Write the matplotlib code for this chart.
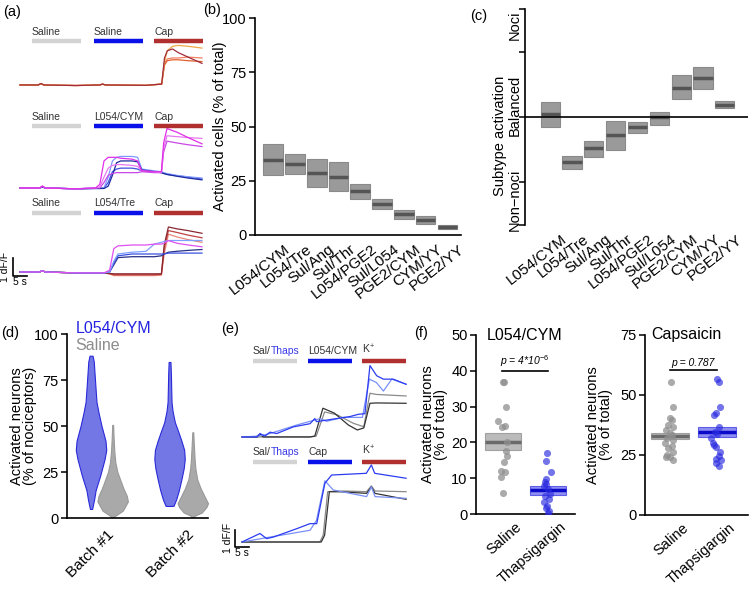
import numpy as np
import matplotlib.pyplot as plt
import matplotlib.transforms as mtransforms

plt.rcParams['font.family'] = ['Liberation Sans', 'DejaVu Sans']
plt.rcParams['mathtext.fontset'] = 'custom'
plt.rcParams['mathtext.rm'] = 'Liberation Sans'
plt.rcParams['mathtext.it'] = 'Liberation Sans:italic'

# ---------------- data ----------------
pairs = ['L054/CYM', 'L054/Tre', 'Sul/Ang', 'Sul/Thr', 'L054/PGE2',
         'Sul/L054', 'PGE2/CYM', 'CYM/YY', 'PGE2/YY']
b_med = [34.6, 32.7, 28.7, 26.9, 20.1, 14.3, 9.5, 6.9, 3.7]
b_lo = [27.6, 28.0, 22.3, 20.3, 16.6, 12.0, 7.4, 5.1, 2.8]
b_hi = [41.9, 37.2, 34.9, 33.5, 23.6, 16.4, 11.5, 8.8, 4.6]

c_med = [0.025, -0.42, -0.29, -0.17, -0.093, -0.003, 0.27, 0.361, 0.114]
c_lo = [-0.09, -0.48, -0.37, -0.31, -0.145, -0.071, 0.164, 0.262, 0.08]
c_hi = [0.142, -0.36, -0.22, -0.034, -0.043, 0.043, 0.386, 0.463, 0.148]

# panel a traces (time in s, dF/F)
a_labels = [['Saline', 'Saline', 'Cap'],
            ['Saline', 'L054/CYM', 'Cap'],
            ['Saline', 'L054/Tre', 'Cap']]
a_bar_start = [4.3, 26.4, 47.9]
a_bar_len = 17.5

a1_t = [0, 6.5, 7.5, 8.5, 20, 28.5, 29.5, 30.5, 45, 50.6, 51.6, 52.6, 54.5, 56.5, 60, 65]
a1_orange = [0, 0, .08, 0, -.03, 0, .05, 0, -.02, .05, 1.3, 1.9, 2.15, 2.2, 2.15, 2.05]
a1_darkred = [0, 0, .08, 0, -.03, 0, .05, 0, -.02, .05, 1.5, 1.9, 2.0, 1.8, 1.55, 1.2]
a1_salmon = [0, 0, .08, 0, -.03, 0, .05, 0, -.02, .05, 1.2, 1.45, 1.5, 1.5, 1.55, 1.5]
a1_red = [0, 0, .08, 0, -.03, 0, .05, 0, -.02, .05, 1.1, 1.35, 1.4, 1.4, 1.35, 1.3]

a2_t = [0, 7, 8, 9, 20, 27, 28.5, 30, 31.5, 33, 34.5, 36, 40, 42, 43.5, 48, 50.5, 51.3, 52.5, 56, 60, 65]
a2_mag1 = [0, 0, .1, 0, -.05, 0, .2, 1.5, 1.7, 1.7, 1.7, 1.65, 1.6, 1.5, .95, .9, .9, 2.5, 3.3, 3.1, 2.8, 2.45]
a2_mag2 = [0, 0, .1, 0, -.05, 0, .05, .6, 1.1, 1.25, 1.3, 1.3, 1.25, 1.2, .95, .9, .85, 2.2, 2.9, 2.85, 2.8, 2.75]
a2_mag3 = [0, 0, .1, 0, -.05, 0, 0, .3, .7, .8, .85, .85, .85, .85, .9, .85, .85, 2.0, 2.6, 2.5, 2.4, 2.3]
a2_blue1 = [0, 0, .05, 0, -.05, 0, 0, 0, .6, 1.5, 1.7, 1.75, 1.75, 1.7, 1.05, .95, .9, .85, .8, .7, .62, .55]
a2_blue2 = [0, 0, .05, 0, -.05, -.03, -.03, -.03, .1, .7, 1.4, 1.5, 1.5, 1.45, 1.0, .9, .85, .8, .75, .65, .55, .45]
a2_blue3 = [0, 0, .05, 0, -.05, -.03, -.03, 0, .3, .9, 1.05, 1.1, 1.1, 1.05, .95, .9, .85, .82, .75, .68, .6, .5]

a3_t = [0, 7, 8, 9, 20, 30, 32, 33.5, 35, 40, 45, 48, 50.5, 51.5, 53, 56, 60, 65]
a3_mag = [0, 0, .08, 0, -.05, -.05, .1, 1.3, 1.45, 1.5, 1.5, 1.55, 1.55, 1.6, 1.75, 1.6, 1.5, 1.4]
a3_lblue = [0, 0, .08, 0, -.05, -.05, 0, .6, 1.0, 1.1, 1.15, 1.55, 1.65, 1.7, 1.75, 1.75, 1.75, 1.75]
a3_blue = [0, 0, .08, 0, -.05, -.05, 0, .5, .9, 1.0, 1.0, 1.0, 1.0, 1.0, 1.05, 1.05, 1.05, 1.05]
a3_dblue = [0, 0, .08, 0, -.05, -.05, 0, .4, .8, .85, .85, .85, .9, 1.0, 1.1, 1.15, 1.2, 1.25]
a3_brown = [0, 0, .08, 0, -.05, -.05, -.08, -.1, -.1, -.1, -.1, -.1, -.1, 1.5, 2.5, 2.4, 2.3, 2.15]
a3_red = [0, 0, .08, 0, -.05, -.05, -.1, -.15, -.15, -.15, -.15, -.15, -.12, 1.3, 2.3, 2.2, 2.05, 1.9]
a3_salmon = [0, 0, .08, 0, -.05, -.05, -.1, -.2, -.2, -.2, -.2, -.2, -.18, 1.0, 2.1, 1.95, 1.8, 1.65]

# panel d violins: % levels and relative density
d_b1_y = [4.9, 10, 15, 23, 32, 37, 42, 50, 57, 63, 70, 75, 80, 85, 88.2]
d_b1_w = [0.07, 0.2, 0.3, 0.6, 0.89, 1.0, 0.95, 0.69, 0.5, 0.36, 0.3, 0.26, 0.22, 0.18, 0.1]
d_s1_y = [0.5, 1.5, 4, 9, 12, 16, 20, 25, 30, 36, 42, 50.6]
d_s1_w = [0.05, 0.22, 0.67, 1.0, 0.93, 0.71, 0.53, 0.31, 0.18, 0.11, 0.07, 0.03]
d_b2_y = [6.5, 6.6, 10, 15, 21, 27, 32, 37, 42, 47, 52, 58, 63, 70, 78, 84.8]
d_b2_w = [0.0, 0.26, 0.43, 0.61, 0.78, 0.93, 1.0, 0.96, 0.78, 0.57, 0.35, 0.2, 0.13, 0.11, 0.09, 0.06]
d_s2_y = [0.5, 1.5, 3, 6, 8, 12, 16, 21, 27, 32, 40, 46.6]
d_s2_w = [0.05, 0.19, 0.6, 0.9, 1.0, 0.76, 0.52, 0.29, 0.17, 0.12, 0.07, 0.03]

# panel e traces
e_labels = [['Sal/', 'L054/CYM', 'K$^{+}$'], ['Sal/', 'Cap', 'K$^{+}$']]
e_bar_start = [3.9, 23.6, 42.9]
e_bar_len = 15.7
e1_blue_t = [0, 5.2, 6.4, 8.2, 10, 12.4, 18.3, 24.3, 26, 26.6, 38.6, 41.5, 43.9, 45.7, 48.1, 50.5, 54, 58.6]
e1_blue_v = [0, 0, 0.2, 0.05, 0.28, 0.2, 0.59, 0.78, 1.08, 0.9, 1.2, 1.33, 1.37, 4.2, 3.6, 3.4, 3.4, 3.1]
e1_lblue_t = [0, 6, 10, 19.5, 27.9, 30.2, 36, 43, 45.5, 48, 50.5, 53.5, 58.6]
e1_lblue_v = [0, 0.05, 0.2, 0.7, 1.08, 0.92, 1.15, 1.15, 3.4, 3.2, 2.7, 3.4, 3.1]
e1_black_t = [0, 5.5, 6.5, 7.5, 24.3, 26, 28.9, 33, 38, 41.2, 43.5, 45.7, 48, 58.6]
e1_black_v = [0, 0, 0.15, 0, 0, 0.05, 1.69, 1.4, 0.7, 0.41, 0.53, 1.98, 2.0, 1.98]
e1_grey_t = [0, 24.3, 26.5, 29.5, 34, 39.8, 43.5, 45.7, 48, 58.6]
e1_grey_v = [0, 0, 0.05, 1.47, 1.3, 0.8, 0.6, 2.57, 2.5, 2.41]

e2_blue_t = [0, 6.4, 8.8, 11.2, 19.5, 24.3, 26.7, 29.6, 32, 44.4, 46.2, 47.4, 58.6]
e2_blue_v = [0, 0.5, 0.2, 0.29, 0.78, 1.08, 1.08, 3.45, 3.94, 4.04, 4.53, 4.04, 3.75]
e2_lblue_t = [0, 10, 24.3, 26.6, 29.6, 32.6, 44.5, 46.2, 47.5, 58.6]
e2_lblue_v = [0, 0.29, 0.69, 1.27, 3.6, 3.06, 2.67, 3.25, 2.67, 2.57]
e2_black_t = [0, 28.3, 29.5, 31.2, 36, 44.5, 46.2, 47.5, 58.6]
e2_black_v = [0, 0, 0.4, 2.96, 2.95, 2.86, 3.25, 2.86, 2.51]
e2_grey_t = [0, 27.8, 29, 30.6, 36, 44.5, 46.2, 47.5, 58.6]
e2_grey_v = [0, 0, 0.4, 2.96, 3.0, 2.96, 3.3, 3.0, 2.96]

# panel f
groups = ['Saline', 'Thapsigargin']
f1_sal = [36.8, 36.8, 29.8, 25.9, 24.7, 24.4, 20.2, 17.6, 16.2, 14.6, 12.0, 11.6, 10.2, 5.8]
f1_sal_jit = [0, 1, 3.3, -5, 1.7, -0.7, 4.3, 2.7, 4, 1, -1.7, 1.7, -1.7, 0]
f1_thaps = [16.9, 14.8, 11.6, 9.9, 9.0, 8.5, 7.9, 6.9, 5.6, 5.1, 4.2, 3.4, 2.3, 1.6, 0.9, 0.3]
f1_thaps_jit = [-1, -1.7, 3.3, -1.7, -3.3, -2.3, -4.3, 0, 1.7, -3.3, 1, -4.3, -1, -2.3, 1, 0]
f1_box = [(17.8, 20.2, 22.5), (5.4, 6.7, 7.9)]
f2_sal = [55.3, 44.9, 40.6, 39.6, 37.5, 36.5, 35.4, 34.3, 33.3, 31.9, 31.3, 29.9,
          28.8, 27.8, 26.4, 25.0, 24.3, 24.0, 22.9]
f2_sal_jit = [0.7, 2.7, 0, 1.7, -1.7, 3.3, -4, 0, 1.7, -2.7, 3.3, -5, 1.7, -1.7, 2.7, -3.3, -4, 0, 3.3]
f2_thaps = [56.5, 55.6, 44.9, 42.6, 41.7, 36.8, 34.7, 33.6, 31.9, 30.1, 29.2, 28.5,
            26.4, 24.6, 23.2, 22.9, 21.5, 20.6]
f2_thaps_jit = [0, 2, 2.7, -1.3, -3.3, 2, -2.3, 0, -5.7, -4, -3.3, -0.7, 2.7, 2, -1.3, 4.3, -1.3, 1.7]
f2_box = [(31.5, 32.9, 34.3), (32.6, 34.7, 36.8)]

# ---------------- figure ----------------
W, H = 749, 591
fig = plt.figure(figsize=(W / 100, H / 100), dpi=100)


def px_axes(x0, y0, x1, y1):
    return fig.add_axes([x0 / W, 1 - y1 / H, (x1 - x0) / W, (y1 - y0) / H])


def shift_xlabels(ax, dx, dy=0):
    off = mtransforms.ScaledTranslation(dx / 100, dy / 100, fig.dpi_scale_trans)
    for lab in ax.get_xticklabels():
        lab.set_transform(lab.get_transform() + off)


def style_axis(ax):
    for s in ['top', 'right']:
        ax.spines[s].set_visible(False)
    for s in ['left', 'bottom']:
        ax.spines[s].set_linewidth(1.2)
    ax.tick_params(direction='out', length=4, width=1.1, labelsize=10.5, pad=2)


TXT = 10.5
BAR_LW = 3.2

# ---- panel a ----
ax = px_axes(0, 0, 210, 290)
ax.set_xlim(-20 / 2.8, 190 / 2.8)
ax.set_ylim(-18 / 18, 272 / 18)
ax.axis('off')
a_base = [10.39, 4.67, 0.0]
a_bar_y = [12.83, 8.11, 3.28]
a_traces = [
    [(a1_t, a1_salmon, '#f08060'), (a1_t, a1_red, '#e06030'),
     (a1_t, a1_orange, '#f0a848'), (a1_t, a1_darkred, '#a02c3c')],
    [(a2_t, a2_blue3, '#4050e0'), (a2_t, a2_blue1, '#7f98ff'), (a2_t, a2_blue2, '#1c2a9c'),
     (a2_t, a2_mag3, '#c848e8'), (a2_t, a2_mag2, '#e878f0'), (a2_t, a2_mag1, '#e030e8')],
    [(a3_t, a3_salmon, '#e88878'), (a3_t, a3_red, '#c04040'), (a3_t, a3_brown, '#882830'),
     (a3_t, a3_dblue, '#283088'), (a3_t, a3_blue, '#3a50e0'), (a3_t, a3_lblue, '#80a0ff'),
     (a3_t, a3_mag, '#e050f0')],
]
bar_cols = ['#d3d3d3', '#0a10e8', '#b03030']
for g in range(3):
    for t, v, c in a_traces[g]:
        ax.plot(t, np.array(v) + a_base[g], color=c, lw=0.9)
    for k in range(3):
        x0 = a_bar_start[k]
        ax.plot([x0, x0 + a_bar_len], [a_bar_y[g]] * 2, color=bar_cols[k], lw=BAR_LW,
                solid_capstyle='butt')
        ax.text(x0, a_bar_y[g] + 0.25, a_labels[g][k], fontsize=7.5, color='#333333',
                ha='left', va='bottom')
# scale bar
ax.plot([-2.6, -2.6, 2.4], [0.78, -0.22, -0.22], color='black', lw=1.2)
ax.text(-5.3, 0.3, '1 dF/F', rotation=90, fontsize=7.5, ha='center', va='center')
ax.text(-0.2, -0.55, '5 s', fontsize=7.5, ha='center', va='center')

# ---- panel b ----
ax = px_axes(255, 18, 461, 235)
style_axis(ax)
x = np.arange(len(pairs))
ax.bar(x, np.array(b_hi) - np.array(b_lo), bottom=b_lo, width=0.9, color='#9a9a9a',
       edgecolor='#8a8a8a', lw=0.8)
ax.hlines(b_med, x - 0.45, x + 0.45, color='#555555', lw=2.5)
ax.set_xlim(-0.83, 8.62)
ax.set_ylim(0, 100)
ax.set_yticks([0, 25, 50, 75, 100])
ax.set_xticks(x)
ax.set_xticklabels(pairs, rotation=38, ha='right', va='top', rotation_mode='anchor',
                   fontsize=11)
ax.tick_params(axis='x', length=0, pad=5)
shift_xlabels(ax, 11)
ax.set_ylabel('Activated cells (% of total)', fontsize=TXT)
ax.yaxis.set_label_coords(-0.136, 0.5)

# ---- panel c ----
ax = px_axes(525, 9, 748, 225)
style_axis(ax)
ax.spines['bottom'].set_visible(False)
ax.bar(x, np.array(c_hi) - np.array(c_lo), bottom=c_lo, width=0.88, color='#9a9a9a',
       edgecolor='#8a8a8a', lw=0.8)
ax.hlines(c_med, x - 0.44, x + 0.44, color='#555555', lw=2.5)
ax.axhline(0, color='black', lw=1.2)
ax.set_xlim(-1.15, 9.06)
ax.set_ylim(-1, 1)
ax.set_yticks([-1, -0.6, 0, 0.6, 1])
ax.set_yticklabels([])
ax.set_xticks(x)
ax.set_xticklabels(pairs, rotation=38, ha='right', va='top', rotation_mode='anchor',
                   fontsize=11)
ax.tick_params(axis='x', length=0, pad=5)
shift_xlabels(ax, 11)
for lab, yy in [('Noci', 25), ('Balanced', 105), ('Non\u2212noci', 200)]:
    fig.text(515 / W, 1 - yy / H, lab, rotation=90, ha='center', va='center', fontsize=10.5)
fig.text(500 / W, 1 - 136 / H, 'Subtype activation', rotation=90, ha='center',
         va='center', fontsize=10.5)

# ---- panel d ----
ax = px_axes(67, 334, 208, 518)
style_axis(ax)
vio = [(1 - 0.11, d_b1_y, d_b1_w, '#7377e6', '#2a2ad8'),
       (1 + 0.16, d_s1_y, d_s1_w, '#a9a9a9', '#999999'),
       (2 - 0.13, d_b2_y, d_b2_w, '#7377e6', '#2a2ad8'),
       (2 + 0.16, d_s2_y, d_s2_w, '#a9a9a9', '#999999')]
for cx, yy, ww, fc, ec in vio:
    hw = np.array(ww) * 0.19
    ax.fill_betweenx(yy, cx - hw, cx + hw, facecolor=fc, edgecolor=ec, lw=0.8)
ax.set_xlim(0.59, 2.35)
ax.set_ylim(0, 100)
ax.set_yticks([0, 25, 50, 75, 100])
ax.set_xticks([1, 2])
ax.set_xticklabels(['Batch #1', 'Batch #2'], rotation=45, ha='right', va='top',
                   rotation_mode='anchor', fontsize=11)
ax.tick_params(axis='x', length=0, pad=7)
shift_xlabels(ax, 7)
ax.set_ylabel('Activated neurons\n(% of nociceptors)', fontsize=TXT, linespacing=0.95)
ax.yaxis.set_label_coords(-0.21, 0.5)
ax.text(0.06, 1.03, 'L054/CYM', transform=ax.transAxes, color='#2424e0', fontsize=11.5,
        ha='left', va='center')
ax.text(0.06, 0.94, 'Saline', transform=ax.transAxes, color='#8c8c8c', fontsize=11.5,
        ha='left', va='center')

# ---- panel e ----
ax = px_axes(215, 330, 410, 560)
ax.set_xlim(-27 / 2.8, 168 / 2.8)
ax.set_ylim(-18 / 17, 212 / 17)
ax.axis('off')
e_base = [6.18, 0.0]
e_bar_y = [10.65, 4.71]
e_traces = [
    [(e1_grey_t, e1_grey_v, '#8a8a8a'), (e1_black_t, e1_black_v, '#333333'),
     (e1_lblue_t, e1_lblue_v, '#7a90f8'), (e1_blue_t, e1_blue_v, '#2c3cf0')],
    [(e2_grey_t, e2_grey_v, '#8a8a8a'), (e2_black_t, e2_black_v, '#333333'),
     (e2_lblue_t, e2_lblue_v, '#7a90f8'), (e2_blue_t, e2_blue_v, '#2c3cf0')],
]
for g in range(2):
    for t, v, c in e_traces[g]:
        ax.plot(t, np.array(v) + e_base[g], color=c, lw=0.9)
    for k in range(3):
        x0 = e_bar_start[k]
        ax.plot([x0, x0 + e_bar_len], [e_bar_y[g]] * 2, color=bar_cols[k], lw=BAR_LW,
                solid_capstyle='butt')
        t1 = ax.text(x0, e_bar_y[g] + 0.3, e_labels[g][k], fontsize=7.5, color='#333333',
                     ha='left', va='bottom')
        if k == 0:
            ax.annotate('Thaps', xy=(1, 0), xycoords=t1, fontsize=7.5, color='#3a3ae8',
                        ha='left', va='bottom')
ax.plot([-2.5, -2.5, 2.5], [0.71, -0.29, -0.29], color='black', lw=1.2)
ax.text(-5.0, 0.25, '1 dF/F', rotation=90, fontsize=7.5, ha='center', va='center')
ax.text(0.0, -0.65, '5 s', fontsize=7.5, ha='center', va='center')

# ---- panel f ----
f_specs = [
    ((476, 335, 575, 514), (-0.6, 1.6), 50, [0, 10, 20, 30, 40, 50], f1_sal, f1_sal_jit,
     f1_thaps, f1_thaps_jit, f1_box, 45, 'L054/CYM', 0.47, 'p = 4*10$^{-6}$', 40.0,
     (-0.02, 1.0), -0.28),
    ((645, 335, 748, 515), (-0.53, 1.66), 75, [0, 25, 50, 75], f2_sal, f2_sal_jit,
     f2_thaps, f2_thaps_jit, f2_box, 47, 'Capsaicin', 0.34, 'p = 0.787', 60.4,
     (0.0, 1.0), -0.31),
]
for (rect, xl, ymax, yt, sal, sj, th, tj, box, pxu, title, tx, ptxt, py, pl, lx) in f_specs:
    ax = px_axes(*rect)
    style_axis(ax)
    cols = [('#8f8f8f', '#a5a5a5', '#6a6a6a', '#8c8c8c'),
            ('#2a2ae0', '#6a6af0', '#0a0ac8', '#3a3ae0')]
    for i, (lo, med, hi) in enumerate(box):
        pc, fc, mc, ec = cols[i]
        ax.bar(i, hi - lo, bottom=lo, width=0.82, color=fc, alpha=0.75, edgecolor=ec, lw=0.8,
               zorder=1)
        ax.hlines(med, i - 0.41, i + 0.41, color=mc, lw=2.5, zorder=2)
    ax.scatter(0 + np.array(sj) / pxu, sal, s=26, color=cols[0][0], alpha=0.75, lw=0,
               zorder=3)
    ax.scatter(1 + np.array(tj) / pxu, th, s=26, color=cols[1][0], alpha=0.65, lw=0,
               zorder=3)
    ax.set_xlim(*xl)
    ax.set_ylim(0, ymax)
    ax.set_yticks(yt)
    ax.set_xticks([0, 1])
    ax.set_xticklabels(groups, rotation=41, ha='right', va='top', rotation_mode='anchor')
    ax.tick_params(axis='x', length=0, pad=4)
    shift_xlabels(ax, 12)
    ax.set_ylabel('Activated neurons\n(% of total)', fontsize=TXT, linespacing=0.95)
    ax.yaxis.set_label_coords(lx, 0.5)
    ax.text(tx, ymax, title, fontsize=11.5, ha='center', va='center')
    ax.plot(pl, [py, py], color='black', lw=1.2)
    ax.text(np.mean(pl), py + ymax * 0.01, ptxt, fontsize=7.5, style='italic',
            ha='center', va='bottom')

# panel letters
for lab, (px, py) in {'(a)': (12, 12), '(b)': (212, 10), '(c)': (479, 16),
                      '(d)': (10, 333), '(e)': (230, 329), '(f)': (421, 333)}.items():
    fig.text(px / W, 1 - py / H, lab, fontsize=TXT, ha='center', va='center')

fig.savefig('out.png', dpi=100)
